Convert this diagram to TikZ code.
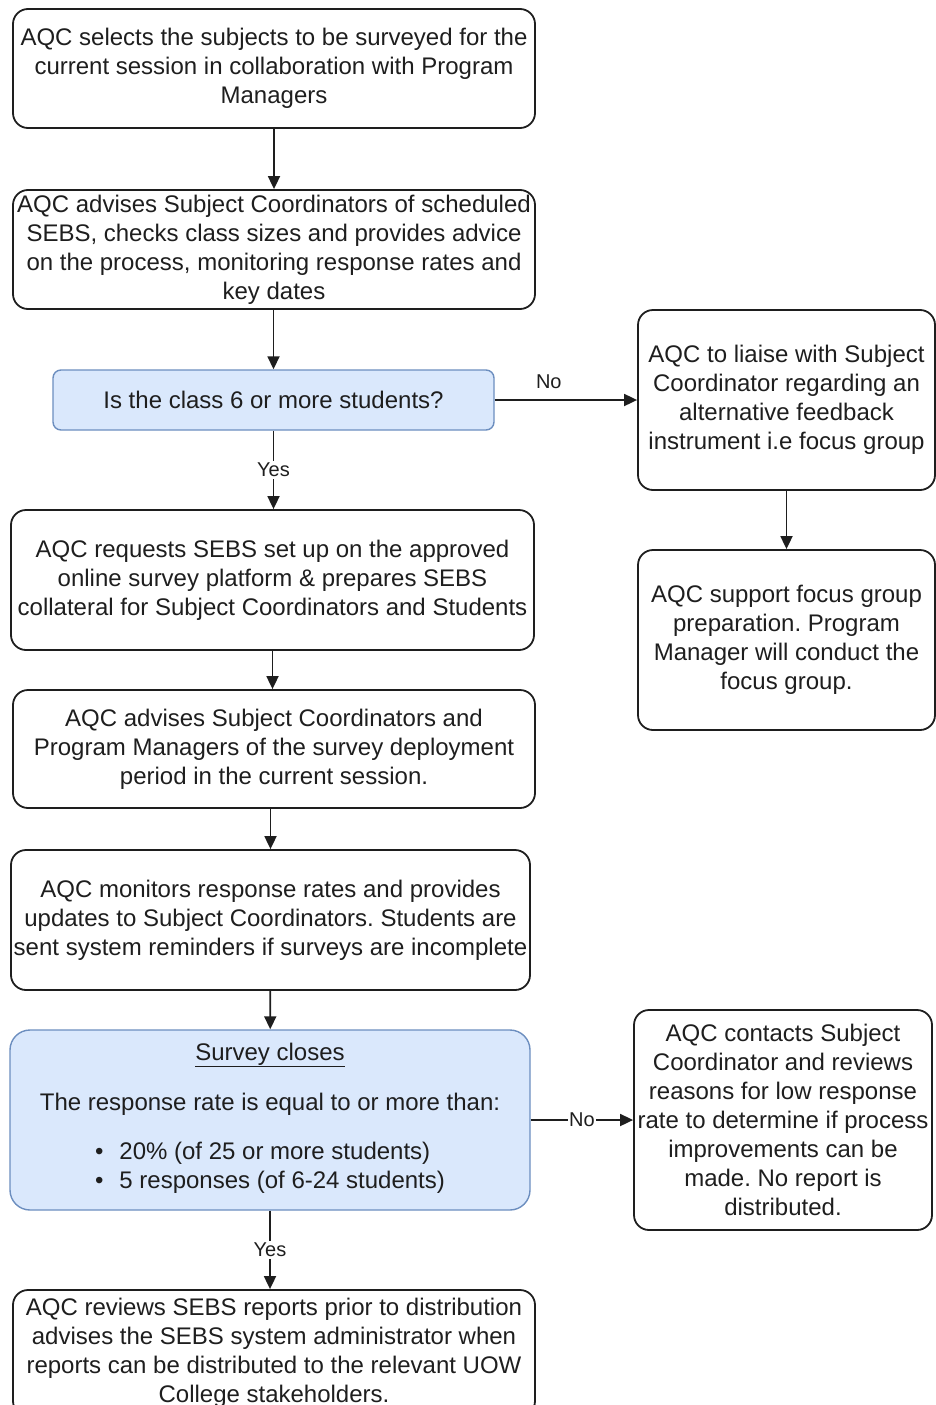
\documentclass[tikz,border=0pt]{standalone}
\usepackage{fontspec}
\setmainfont{Liberation Sans}
\usetikzlibrary{arrows.meta}
\definecolor{ink}{RGB}{30,30,30}
\definecolor{qfill}{RGB}{218,232,252}
\definecolor{qline}{RGB}{108,142,191}
\frenchspacing

\begin{document}
\begin{tikzpicture}[x=1pt, y=-1pt, line width=1.8pt, draw=ink, text=ink,
    >={Triangle[length=13pt, width=12pt]},
    every node/.style={font=\fontsize{24}{29}\selectfont, align=center, inner sep=0pt},
    stepbox/.style={draw=ink, rounded corners=15pt, minimum width=522pt},
    askbox/.style={draw=qline, fill=qfill, line width=1.4pt},
    lbl/.style={font=\fontsize{20}{22}\selectfont, fill=white, inner sep=2pt}]

    \useasboundingbox (0,0) rectangle (935,1405);

    % MAIN COLUMN
    \node[stepbox, minimum height=119pt] (select) at (274,68.5)
        {AQC selects the subjects to be surveyed for the\\current session in collaboration with Program\\Managers};
    \node[stepbox, minimum height=119pt] (advise) at (274,249.5)
        {AQC advises Subject Coordinators of scheduled\\SEBS, checks class sizes and provides advice\\on the process, monitoring response rates and\\key dates};
    \node[stepbox, askbox, rounded corners=8pt, minimum width=441pt, minimum height=60pt] (size) at (273.5,400)
        {Is the class 6 or more students?};
    \node[stepbox, minimum width=523pt, minimum height=140pt] (setup) at (272.5,580)
        {AQC requests SEBS set up on the approved\\online survey platform \& prepares SEBS\\collateral for Subject Coordinators and Students};
    \node[stepbox, minimum height=118pt] (deploy) at (274,749)
        {AQC advises Subject Coordinators and\\Program Managers of the survey deployment\\period in the current session.};
    \node[stepbox, minimum width=519pt, minimum height=140pt] (monitor) at (270.5,920)
        {AQC monitors response rates and provides\\updates to Subject Coordinators. Students are\\sent system reminders if surveys are incomplete};
    \node[stepbox, askbox, rounded corners=20pt, minimum width=520pt, minimum height=180pt] (closes) at (270,1120)
        {\underline{Survey closes}\\[21pt]
         The response rate is equal to or more than:\\[23pt]
         \begin{tabular}{@{}l@{}}
           \textbullet\hspace{16pt}20\% (of 25 or more students)\\
           \textbullet\hspace{16pt}5 responses (of 6-24 students)
         \end{tabular}};
    \node[stepbox, minimum height=126pt] (reports) at (274,1353)
        {AQC reviews SEBS reports prior to distribution\\advises the SEBS system administrator when\\reports can be distributed to the relevant UOW\\College stakeholders.};

    % RIGHT COLUMN
    \node[stepbox, minimum width=297pt, minimum height=180pt] (liaise) at (786.5,400)
        {AQC to liaise with Subject\\Coordinator regarding an\\alternative feedback\\instrument i.e focus group};
    \node[stepbox, minimum width=297pt, minimum height=180pt] (focus) at (786.5,640)
        {AQC support focus group\\preparation. Program\\Manager will conduct the\\focus group.};
    \node[stepbox, minimum width=298pt, minimum height=220pt] (contact) at (783,1120)
        {AQC contacts Subject\\Coordinator and reviews\\reasons for low response\\rate to determine if process\\improvements can be\\made. No report is\\distributed.};

    % CONNECTORS
    \draw[->] (select) -- (advise);
    \draw[->] (advise.south -| size) -- (size);
    \draw[->] (size) -- node[lbl] {Yes} (size |- setup.north);
    \draw[->] (size) -- node[lbl, fill=none, above=8pt, pos=0.38] {No} (liaise);
    \draw[->] (liaise) -- (focus);
    \draw[->] (setup) -- (setup |- deploy.north);
    \draw[->] (deploy.south -| monitor) -- (monitor);
    \draw[->] (monitor) -- (closes);
    \draw[->] (closes) -- node[lbl, inner sep=1pt] {No} (contact);
    \draw[->] (closes.south) -- node[lbl] {Yes} (closes.south |- reports.north);
\end{tikzpicture}
\end{document}
